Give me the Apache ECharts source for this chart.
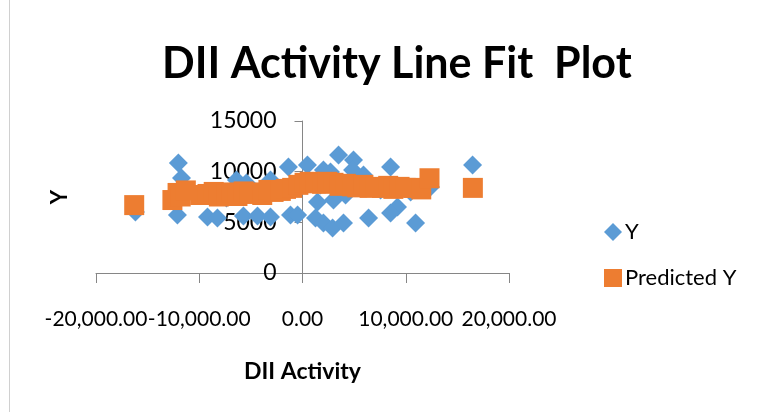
<!DOCTYPE html>
<html>
<head>
<meta charset="utf-8">
<script src="https://cdn.jsdelivr.net/npm/echarts@6/dist/echarts.min.js"></script>
<style>
  html, body { margin: 0; padding: 0; background: #fff; }
  #chart { width: 765px; height: 412px; }
</style>
</head>
<body>
<div id="chart"></div>
<script>
// DII Activity vs Y
const actualY = [
  [-16180, 6020], [-12020, 10850], [-11720, 9380], [-12110, 5720], [-9200, 5530],
  [-8240, 5430], [-6400, 9180], [-5720, 5620], [-4360, 5620], [-3100, 9180],
  [-3100, 5520], [-1360, 10460], [480, 10660], [-1160, 5720], [-480, 5720],
  [3490, 11640], [4940, 11150], [2710, 9970], [2030, 10160], [5910, 9670],
  [8530, 10460], [16470, 10660], [12400, 8490], [9200, 6510], [8530, 5920],
  [6400, 5430], [10950, 4930], [1260, 5430], [2030, 4930], [2910, 4440],
  [3970, 4930], [1450, 7000], [4850, 10160], [3000, 7200], [-9880, 7700],
  [-4070, 8000], [-1650, 8190], [1740, 8680], [7560, 8190], [10470, 8000],
  [4170, 7700], [-7360, 7400], [-5430, 8880]
];
const predictedY = [
  [-16300, 6700], [-12600, 7200], [-12100, 7900], [-11800, 7550], [-11300, 8150],
  [-9900, 7700], [-9200, 7800], [-8600, 8000], [-8100, 7550], [-7400, 7750],
  [-6900, 7950], [-6300, 7600], [-5700, 8050], [-5100, 7800], [-4500, 7950],
  [-3900, 7700], [-3300, 8200], [-2800, 8000], [-2100, 8100], [-1600, 8300],
  [-1000, 8400], [-400, 8700], [200, 8900], [700, 9000], [1300, 8850],
  [1900, 8800], [2400, 9000], [3000, 8900], [3600, 8600], [4200, 8800],
  [4800, 8550], [5300, 8450], [5900, 8700], [6500, 8400], [7100, 8500],
  [7700, 8400], [8300, 8600], [8800, 8300], [9400, 8500], [10000, 8400],
  [10800, 8400], [11500, 8250], [12300, 9350], [16500, 8400]
];
const xTicks = [-20000, -10000, 0, 10000, 20000];
const xTickLabels = ['-20,000.00', '-10,000.00', '0.00', '10,000.00', '20,000.00'];
const yTicks = [0, 5000, 10000, 15000];
const yTickLabels = ['0', '5000', '10000', '15000'];

const FONT = 'Lato';
const AXIS_GRAY = '#868686';

const myChart = echarts.init(document.getElementById('chart'), null, { renderer: 'canvas' });
myChart.setOption({
  animation: false,
  backgroundColor: '#fff',
  title: {
    text: 'DII Activity Line Fit  Plot',
    left: 157,
    top: 38,
    textStyle: { fontFamily: FONT, fontWeight: 'bold', fontSize: 43, color: '#000' },
  },
  legend: {
    orient: 'vertical',
    left: 599,
    top: 216,
    itemWidth: 18,
    itemHeight: 18,
    itemGap: 24,
    textStyle: { fontFamily: FONT, fontSize: 22, color: '#000', padding: [0, 0, 0, -2] },
    data: [
      { name: 'Y', icon: 'diamond' },
      { name: 'Predicted Y', icon: 'rect' },
    ],
  },
  grid: { left: 96, right: 256, top: 121, bottom: 139, containLabel: false, outerBoundsMode: 'none' },
  xAxis: {
    type: 'value',
    min: xTicks[0],
    max: xTicks[xTicks.length - 1],
    interval: 10000,
    name: 'DII Activity',
    nameLocation: 'middle',
    nameGap: 87,
    nameTextStyle: { fontFamily: FONT, fontWeight: 'bold', fontSize: 23, color: '#000' },
    splitLine: { show: false },
    axisLine: { lineStyle: { color: AXIS_GRAY, width: 1 } },
    axisTick: { length: 10, lineStyle: { color: AXIS_GRAY } },
    axisLabel: {
      margin: 36,
      fontFamily: FONT,
      fontSize: 21,
      color: '#000',
      showMinLabel: true,
      showMaxLabel: true,
      hideOverlap: false,
      formatter: (v) => xTickLabels[xTicks.indexOf(v)],
    },
  },
  yAxis: {
    type: 'value',
    min: yTicks[0],
    max: yTicks[yTicks.length - 1],
    interval: 5000,
    // the y axis crosses at x = 0, the middle of the grid
    offset: -206.5,
    name: 'Y',
    nameLocation: 'middle',
    nameRotate: 90,
    nameGap: 232,
    nameTextStyle: { fontFamily: FONT, fontWeight: 'bold', fontSize: 22, color: '#000' },
    splitLine: { show: false },
    axisLine: { onZero: false, lineStyle: { color: AXIS_GRAY, width: 1 } },
    axisTick: { length: 8, lineStyle: { color: AXIS_GRAY } },
    axisLabel: {
      margin: 26,
      fontFamily: FONT,
      fontSize: 23,
      color: '#000',
      showMinLabel: true,
      showMaxLabel: true,
      hideOverlap: false,
      formatter: (v) => yTickLabels[yTicks.indexOf(v)],
    },
  },
  graphic: [
    {
      type: 'line',
      shape: { x1: 9.5, y1: 0, x2: 9.5, y2: 412 },
      style: { stroke: '#d0d0d0', lineWidth: 1 },
    },
  ],
  series: [
    {
      name: 'Y',
      type: 'scatter',
      symbol: 'diamond',
      symbolSize: 19,
      itemStyle: { color: '#5B9BD5', opacity: 1 },
      data: actualY,
    },
    {
      name: 'Predicted Y',
      type: 'scatter',
      symbol: 'rect',
      symbolSize: 20,
      itemStyle: { color: '#ED7D31', opacity: 1 },
      data: predictedY,
    },
  ],
});
</script>
</body>
</html>
